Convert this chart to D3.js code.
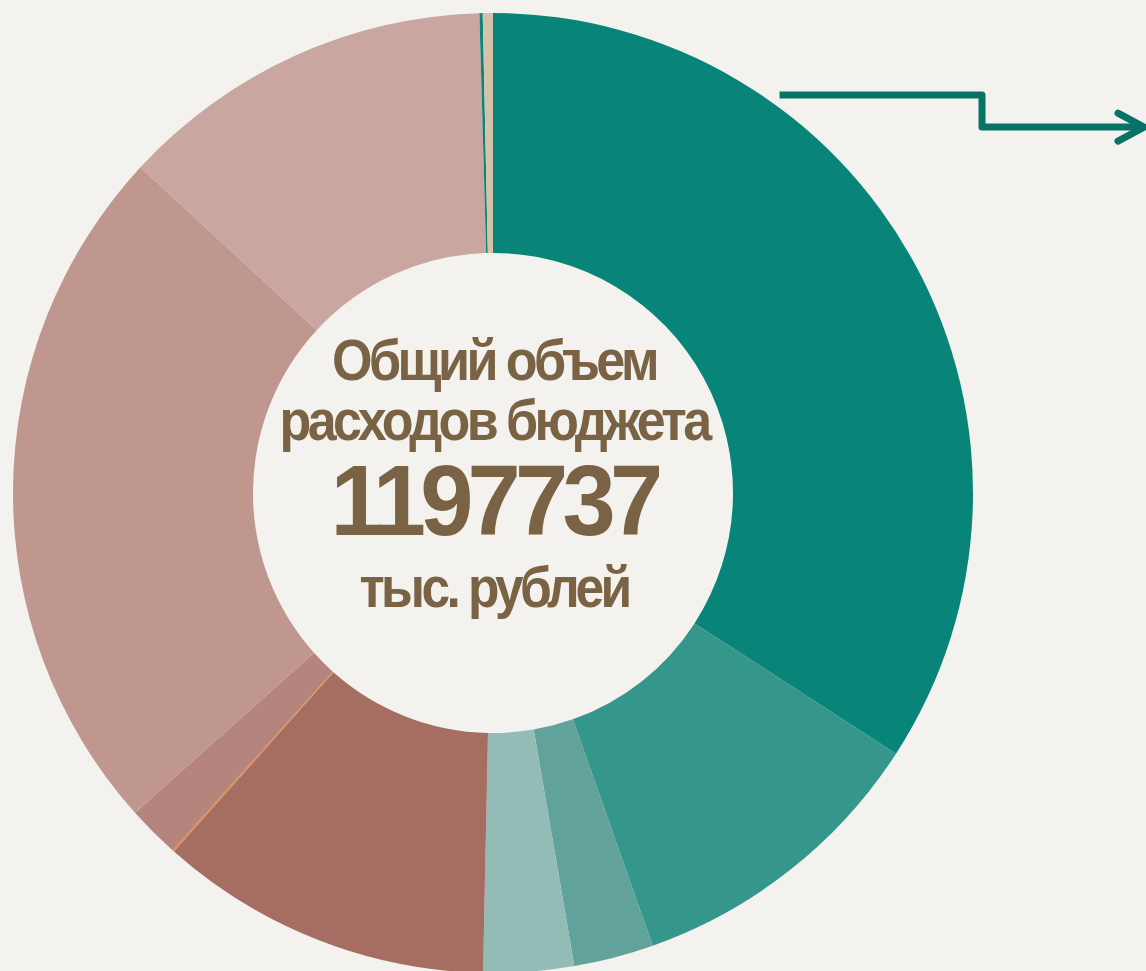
<!DOCTYPE html>
<html>
<head>
<meta charset="utf-8">
<script src="https://cdn.jsdelivr.net/npm/d3@7"></script>
<style>
  body { margin: 0; background: #f3f2ee; }
  svg { display: block; }
</style>
</head>
<body>
<div id="chart"></div>
<script>
// budget expense structure, thousand rubles
var sections = ["Раздел 1", "Раздел 2", "Раздел 3", "Раздел 4", "Раздел 5", "Раздел 6",
                "Раздел 7", "Раздел 8", "Раздел 9", "Раздел 10", "Раздел 11"];
var amounts  = [408907, 125283, 32219, 36411, 134665, 780, 21080, 281110, 151873, 1318, 4091];
var colors   = ["#088578", "#35978c", "#61a39a", "#94bcb7", "#a66e62", "#d98c4a",
                "#b5857d", "#c0978e", "#c9a69f", "#0b857a", "#d6c2a8"];
var totalText = "1197737";
var centerLines = ["Общий объем", "расходов бюджета", "тыс. рублей"];

var width = 1146, height = 971;
var cx = 493, cy = 493;
var outerR = 480, innerR = 240;

var data = sections.map(function (s, i) {
  return { name: s, value: amounts[i], color: colors[i] };
});

var svg = d3.select("#chart").append("svg")
  .attr("width", width)
  .attr("height", height);

svg.append("rect")
  .attr("width", width).attr("height", height)
  .attr("fill", "#f3f2ee");

var g = svg.append("g")
  .attr("transform", "translate(" + cx + "," + cy + ")");

var pie = d3.pie().sort(null).value(d => d.value);
var arc = d3.arc().innerRadius(innerR).outerRadius(outerR);

g.selectAll("path.slice")
  .data(pie(data))
  .enter()
  .append("path")
  .attr("class", "slice")
  .attr("d", arc)
  .attr("fill", d => d.data.color);

// centre caption
var textColor = "#7a6345";
var captions = [
  { text: centerLines[0], y: -113, size: 58, ls: -4, len: 324 },
  { text: centerLines[1], y: -53,  size: 58, ls: -4, len: 429 },
  { text: totalText,      y: 42,   size: 100, ls: -6, len: 327 },
  { text: centerLines[2], y: 114,  size: 57, ls: -4, len: 269 }
];
g.selectAll("text.caption")
  .data(captions)
  .enter()
  .append("text")
  .attr("class", "caption")
  .attr("x", 1)
  .attr("y", d => d.y)
  .attr("text-anchor", "middle")
  .attr("textLength", d => d.len)
  .attr("lengthAdjust", "spacingAndGlyphs")
  .style("font-family", "'Liberation Sans', Arial, sans-serif")
  .style("font-weight", "bold")
  .style("font-size", d => d.size + "px")
  .style("letter-spacing", d => d.ls + "px")
  .attr("fill", textColor)
  .text(d => d.text);

// arrow pointing right from the first slice
var arrowColor = "#077367";
var ax0 = cx + outerR * 0.597, ay0 = cy - outerR * 0.829;
var axMid = 982, ay1 = ay0 + 32, axEnd = 1144;
svg.append("path")
  .attr("d", "M" + ax0 + "," + ay0 + " H" + axMid + " V" + ay1 + " H" + (axEnd - 3))
  .attr("fill", "none")
  .attr("stroke", arrowColor)
  .attr("stroke-width", 7)
  .attr("stroke-linejoin", "round");
svg.append("path")
  .attr("d", "M" + (axEnd - 26) + "," + (ay1 - 14) + " L" + axEnd + "," + ay1 + " L" + (axEnd - 26) + "," + (ay1 + 14))
  .attr("fill", "none")
  .attr("stroke", arrowColor)
  .attr("stroke-width", 7)
  .attr("stroke-linecap", "round")
  .attr("stroke-linejoin", "round");
</script>
</body>
</html>
